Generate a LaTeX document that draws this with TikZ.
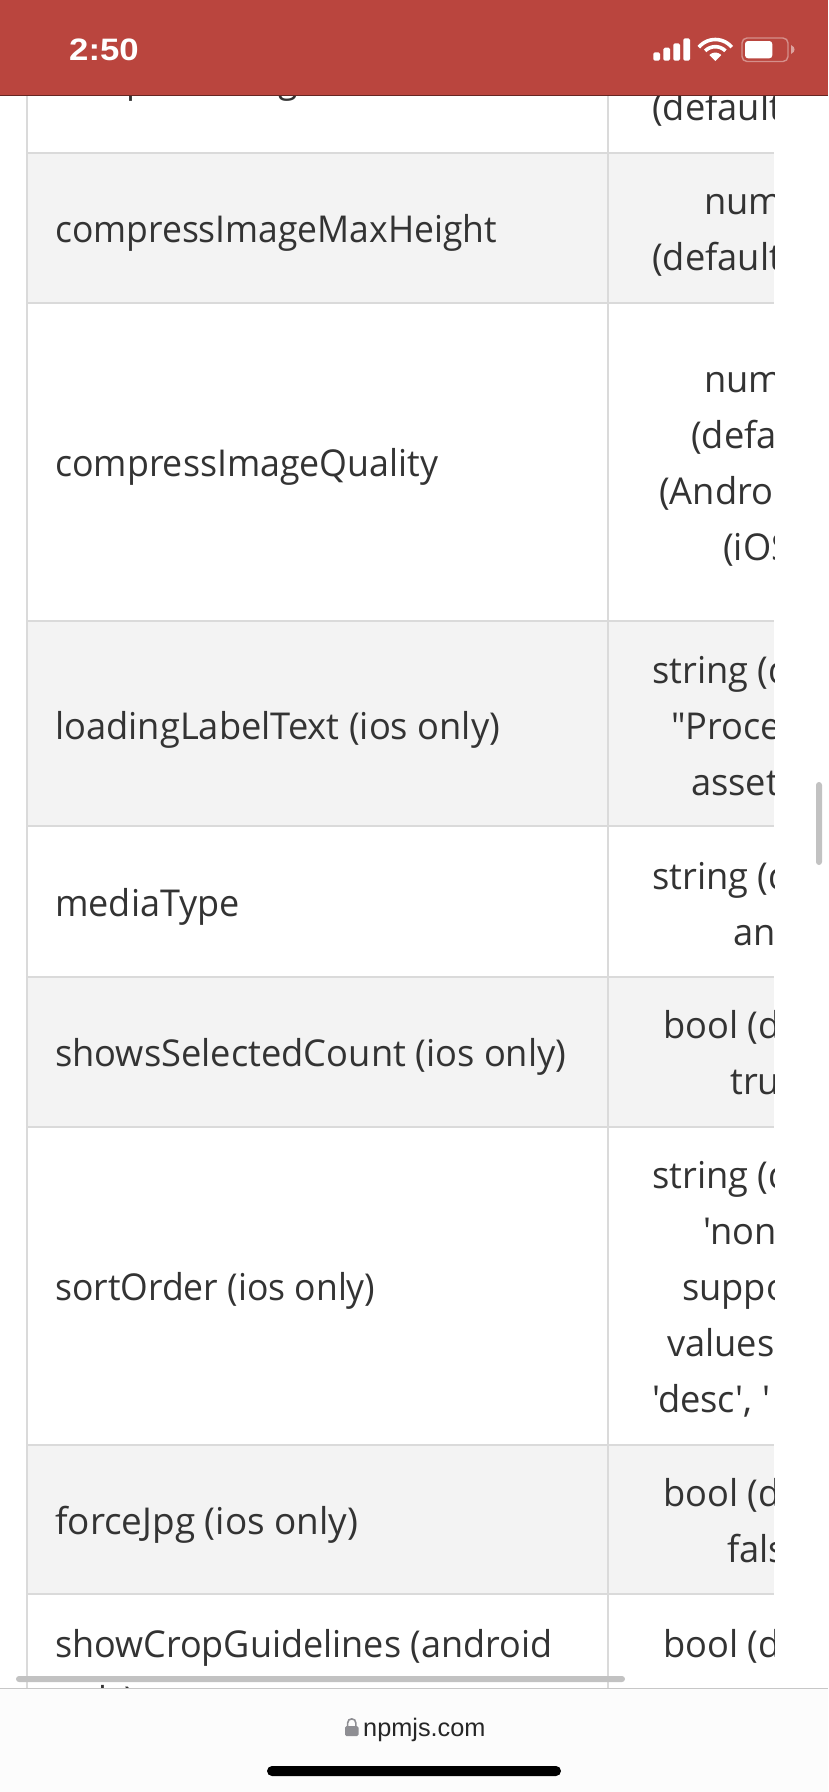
\documentclass[tikz,border=0pt]{standalone}
\usepackage{fontspec}
\setmainfont{Open Sans}
\newfontfamily\cellfont[FakeStretch=0.95]{Open Sans}
\newfontfamily\rightfont[FakeStretch=0.98]{Open Sans}
\newfontfamily\uifont{Liberation Sans}
\definecolor{ink}{HTML}{333333}
\definecolor{rule}{HTML}{DADADA}
\definecolor{zebra}{HTML}{F3F3F3}
\definecolor{hdr}{HTML}{BA453E}
\definecolor{scrollb}{HTML}{C2C2C2}
\definecolor{lockc}{HTML}{8E8E93}
\definecolor{barbg}{HTML}{FCFCFC}
\newcommand{\sx}[2]{\scalebox{#1}[1]{#2}}
\tikzset{
  cell/.style={anchor=base west,inner sep=0pt,text=ink,font=\cellfont\fontsize{37}{40}\selectfont},
  cellr/.style={anchor=base west,inner sep=0pt,text=ink,font=\rightfont\fontsize{37}{40}\selectfont},
  rowband/.style={fill=zebra,draw=none},
  tabrule/.style={draw=rule,line width=2pt},
  bar/.style={fill=white,draw=none,rounded corners=1.5pt},
  wifi/.style={draw=white,line width=3.6pt,line cap=butt}
}
\begin{document}
\begin{tikzpicture}[x=1pt,y=-1pt]
\useasboundingbox (0,0) rectangle (828,1792);
\fill[white] (0,0) rectangle (828,1792);
% bands
\fill[rowband] (27,153) rectangle (774,303);
\fill[rowband] (27,621) rectangle (774,826);
\fill[rowband] (27,977) rectangle (774,1127);
\fill[rowband] (27,1445) rectangle (774,1594);
% rules
\foreach \y in {153,303,621,826,977,1127,1445,1594}
  \draw[tabrule] (27,\y) -- (774,\y);
\draw[tabrule] (27,90) -- (27,1688);
\draw[tabrule] (608,90) -- (608,1688);
% first column
\node[cell] (a0) at (55,92) {\sx{1.01}{compressImageMaxWidth}};
\node[cell] (a1) at (55,242.5) {\sx{1.01}{compressImageMaxHeight}};
\node[cell] (a2) at (55,476.5) {\sx{1.018}{compressImageQuality}};
\node[cell] (a3) at (55,739) {\sx{1.032}{loadingLabelText (ios only)}};
\node[cell] (a4) at (55,916) {\sx{1.025}{mediaType}};
\node[cell] (a5) at (55,1066.5) {\sx{1.032}{showsSelectedCount (ios only)}};
\node[cell] (a6) at (55,1300.5) {\sx{1.011}{sortOrder (ios only)}};
\node[cell] (a7) at (55,1534) {\sx{1.05}{forceJpg (ios only)}};
\node[cell] (a8) at (55,1657) {\sx{1.024}{showCropGuidelines (android}};
\node[cell] (a9) at (55,1713) {only)};
% second column, cut off at the right
\begin{scope}
\clip (609,96) rectangle (774,1688);
\node[cellr] (b0) at (652,120.5) {(default};
\node[cellr] (b1) at (704,214.5) {num};
\node[cellr] (b2) at (652,270.5) {(default};
\node[cellr] (b3) at (704,392.5) {num};
\node[cellr] (b4) at (691,448.5) {(defa};
\node[cellr] (b5) at (659,504.5) {(Andro};
\node[cellr] (b6) at (723,560.5) {(iOS};
\node[cellr] (b7) at (652,683) {string (d};
\node[cellr] (b8) at (671,739) {"Proce};
\node[cellr] (b9) at (691,795) {asset};
\node[cellr] (b10) at (652,889) {string (d};
\node[cellr] (b11) at (733,945) {an};
\node[cellr] (b12) at (663,1038.5) {bool (d};
\node[cellr] (b13) at (730,1094.5) {tru};
\node[cellr] (b14) at (652,1188.5) {string (d};
\node[cellr] (b15) at (703,1244.5) {'non};
\node[cellr] (b16) at (682,1300.5) {suppo};
\node[cellr] (b17) at (667,1356.5) {values};
\node[cellr] (b18) at (652,1412.5) {'desc', '};
\node[cellr] (b19) at (663,1506.5) {bool (d};
\node[cellr] (b20) at (727,1562.5) {fals};
\node[cellr] (b21) at (663,1657) {bool (d};
\end{scope}
% scrollbars
\fill[scrollb,rounded corners=3pt] (16,1676) rectangle (625,1682);
\fill[scrollb,rounded corners=3pt] (816,782) rectangle (822,865);
% header
\fill[hdr] (0,0) rectangle (828,95.5);
\draw[black!45!hdr,line width=0.5pt] (0,95.5) -- (828,95.5);
\node[anchor=base west,inner sep=0pt,text=white,font=\uifont\bfseries\fontsize{31}{31}\selectfont] (clock) at (69,60) {\sx{1.12}{2:50}};
\fill[bar] (653.3,52.3) rectangle (660,60.7);
\fill[bar] (663.3,47.7) rectangle (670,60.7);
\fill[bar] (673.3,43.3) rectangle (680,60.7);
\fill[bar] (683.3,38.3) rectangle (690,60.7);
\fill[white] (715.3,61) -- (709.3,55) -- plot[domain=135:45,samples=9] ({715.3+8.4*cos(\x)},{61-8.4*sin(\x)}) -- cycle;
\draw[wifi] plot[domain=45:135,samples=15] ({715.3+14.3*cos(\x)},{61-14.3*sin(\x)});
\draw[wifi] plot[domain=40:140,samples=15] ({715.3+21.5*cos(\x)},{61-21.5*sin(\x)});
\draw[draw=white,draw opacity=.4,line width=1.4pt,rounded corners=5pt] (742,38) rectangle (788,61.5);
\fill[bar,rounded corners=3pt] (745,41) rectangle (772.3,58.3);
\fill[white,opacity=.5] (791,45) .. controls (793.5,46) and (794.5,48) .. (794.5,49.5) .. controls (794.5,51) and (793.5,53) .. (791,54) -- cycle;
% bottom bar
\fill[barbg] (0,1688) rectangle (828,1792);
\draw[black!22,line width=1pt] (0,1688) -- (828,1688);
\fill[lockc,rounded corners=1.5pt] (345,1726) rectangle (358.5,1736);
\draw[lockc,line width=1.6pt] (347.6,1727) -- (347.6,1723) .. controls (347.6,1717.5) and (355.9,1717.5) .. (355.9,1723) -- (355.9,1727);
\node[anchor=base west,inner sep=0pt,text=black!85,font=\uifont\fontsize{25.3}{26}\selectfont] (url) at (363,1736) {npmjs.com};
\fill[black,rounded corners=5pt] (267,1766) rectangle (561,1776);
\end{tikzpicture}
\end{document}
